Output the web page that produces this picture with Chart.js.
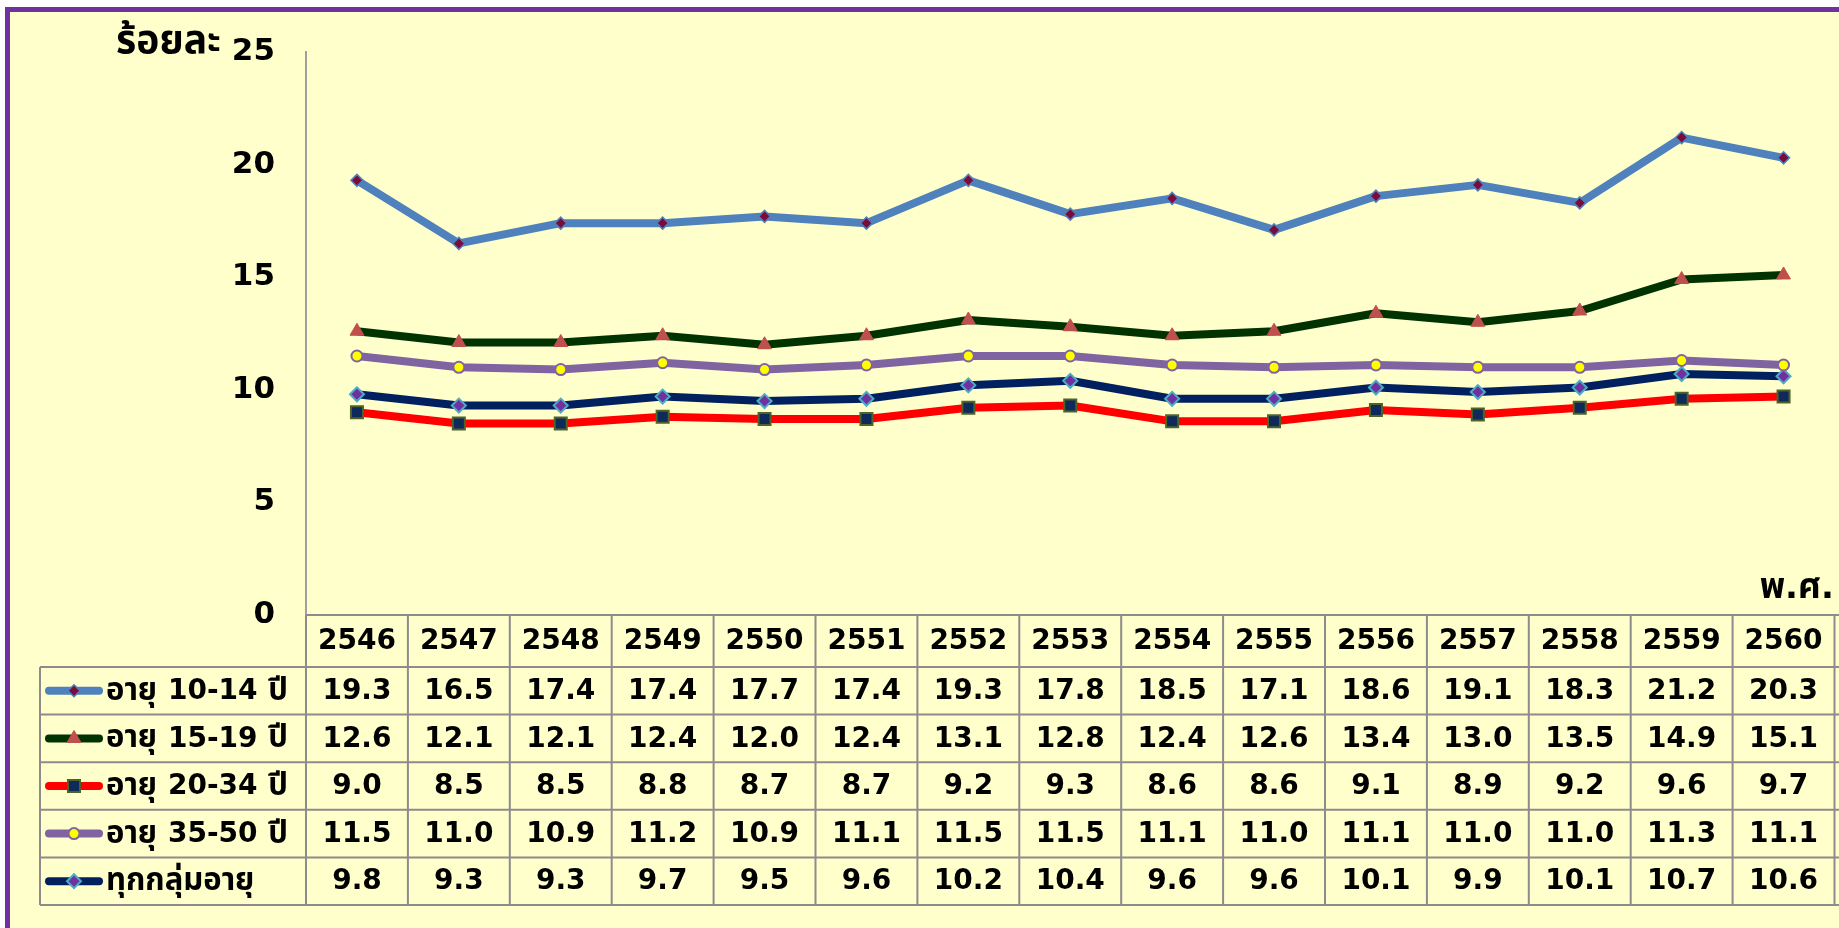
<!DOCTYPE html>
<html><head><meta charset="utf-8">
<script src="https://cdn.jsdelivr.net/npm/chart.js@4.4.1/dist/chart.umd.min.js"></script>
<style>
html,body{margin:0;padding:0;background:#fff;overflow:hidden;width:1839px;height:928px;}
#frame{position:absolute;left:5px;top:7px;width:2000px;height:1000px;background:#FFFFCC;border-left:5px solid #7030A0;border-top:5px solid #7030A0;}
#c{position:absolute;left:0;top:0;}
</style></head>
<body>
<div id="frame"></div>
<canvas id="c" width="1845" height="928"></canvas>
<script>
const years = ['2546','2547','2548','2549','2550','2551','2552','2553','2554','2555','2556','2557','2558','2559','2560'];
const seriesNames = ['อายุ 10-14 ปี','อายุ 15-19 ปี','อายุ 20-34 ปี','อายุ 35-50 ปี','ทุกกลุ่มอายุ'];
const age10_14 = [19.3,16.5,17.4,17.4,17.7,17.4,19.3,17.8,18.5,17.1,18.6,19.1,18.3,21.2,20.3];
const age15_19 = [12.6,12.1,12.1,12.4,12.0,12.4,13.1,12.8,12.4,12.6,13.4,13.0,13.5,14.9,15.1];
const age20_34 = [9.0,8.5,8.5,8.8,8.7,8.7,9.2,9.3,8.6,8.6,9.1,8.9,9.2,9.6,9.7];
const age35_50 = [11.5,11.0,10.9,11.2,10.9,11.1,11.5,11.5,11.1,11.0,11.1,11.0,11.0,11.3,11.1];
const allAges = [9.8,9.3,9.3,9.7,9.5,9.6,10.2,10.4,9.6,9.6,10.1,9.9,10.1,10.7,10.6];
const yTicks = [0,5,10,15,20,25];
const yTitle = 'ร้อยละ';
const xTitle = 'พ.ศ.';

const FONT = '"DejaVu Sans","Noto Sans","Noto Sans Thai",Tahoma,sans-serif';
const styles = [
  {line:'#4F81BD', w:8, pt:'rectRot', r:6, fill:'#7A0C3C', stroke:'#4F81BD', bw:1.5},
  {line:'#003300', w:8, pt:'triangle', r:8, fill:'#C0504D', stroke:'#C0504D', bw:1},
  {line:'#FF0000', w:8, pt:'rect', r:8.5, fill:'#0E2A5A', stroke:'#4F6228', bw:2},
  {line:'#8064A2', w:8, pt:'circle', r:5.5, fill:'#FFFF00', stroke:'#8064A2', bw:2},
  {line:'#002060', w:8, pt:'rectRot', r:7, fill:'#7030A0', stroke:'#4BACC6', bw:2}
];
const seriesData = [age10_14, age15_19, age20_34, age35_50, allAges];

function drawMarker(ctx, st, x, y){
  const r = st.r;
  ctx.save();
  ctx.fillStyle = st.fill; ctx.strokeStyle = st.stroke; ctx.lineWidth = st.bw;
  ctx.beginPath();
  if (st.pt === 'circle') { ctx.arc(x, y, r, 0, Math.PI*2); }
  else if (st.pt === 'rect') { const s = r*Math.SQRT1_2; ctx.rect(x-s, y-s, 2*s, 2*s); }
  else if (st.pt === 'rectRot') { const d = r; ctx.moveTo(x, y-d); ctx.lineTo(x+d, y); ctx.lineTo(x, y+d); ctx.lineTo(x-d, y); ctx.closePath(); }
  else if (st.pt === 'triangle') {
    let a = 0; ctx.moveTo(x + Math.sin(a)*r, y - Math.cos(a)*r);
    a += 2*Math.PI/3; ctx.lineTo(x + Math.sin(a)*r, y - Math.cos(a)*r);
    a += 2*Math.PI/3; ctx.lineTo(x + Math.sin(a)*r, y - Math.cos(a)*r); ctx.closePath();
  }
  ctx.fill(); ctx.stroke();
  ctx.restore();
}

// draws text where Thai runs get a larger size than digits/latin
function drawMixed(ctx, text, x, y, latinSize, thaiSize, align){
  const parts = text.split(/([0-9.\-]+)/).filter(p => p.length);
  const fonts = parts.map(p => /[\u0E00-\u0E7F]/.test(p) ? 'bold ' + thaiSize + 'px ' + FONT : 'bold ' + latinSize + 'px ' + FONT);
  let total = 0;
  const widths = parts.map((p,i) => { ctx.font = fonts[i]; const w = ctx.measureText(p).width; total += w; return w; });
  let cx = align === 'right' ? x - total : x;
  ctx.textAlign = 'left';
  parts.forEach((p,i) => { ctx.font = fonts[i]; ctx.fillText(p, cx, y); cx += widths[i]; });
}

const tablePlugin = {
  id: 'dataTable',
  afterDraw(chart){
    const ctx = chart.ctx;
    const xs = chart.scales.x;
    const ca = chart.chartArea;
    const colW = xs.getPixelForValue(1) - xs.getPixelForValue(0);
    const headTop = ca.bottom, headBot = 667, rowH = 47.6, nRows = seriesNames.length;
    const tableBot = headBot + rowH*nRows;
    const legendLeft = 40;
    ctx.save();
    ctx.strokeStyle = '#8C8C8C'; ctx.lineWidth = 2;
    ctx.beginPath();
    ctx.moveTo(ca.left, headTop); ctx.lineTo(ca.right+5, headTop);
    for (let i=0;i<=nRows;i++){ const y = headBot + rowH*i; ctx.moveTo(legendLeft, y); ctx.lineTo(ca.right+5, y); }
    ctx.moveTo(legendLeft, headBot); ctx.lineTo(legendLeft, tableBot);
    for (let i=0;i<=years.length;i++){ const x = ca.left + colW*i; ctx.moveTo(x, headTop); ctx.lineTo(x, tableBot); }
    ctx.stroke();

    ctx.fillStyle = '#000';
    ctx.font = 'bold 28px ' + FONT;
    ctx.textAlign = 'center'; ctx.textBaseline = 'middle';
    years.forEach((yr,i)=>{ ctx.fillText(yr, xs.getPixelForValue(i), (headTop+headBot)/2 + 1); });
    seriesData.forEach((arr, r)=>{
      const cy = headBot + rowH*r + rowH/2 + 1;
      arr.forEach((v,i)=>{ ctx.fillText(v.toFixed(1), xs.getPixelForValue(i), cy); });
    });
    // legend keys
    seriesNames.forEach((nm, r)=>{
      const cy = headBot + rowH*r + rowH/2;
      const st = styles[r];
      ctx.save();
      ctx.strokeStyle = st.line; ctx.lineWidth = st.w; ctx.lineCap = 'round';
      ctx.beginPath(); ctx.moveTo(49, cy); ctx.lineTo(99, cy); ctx.stroke();
      ctx.restore();
      drawMarker(ctx, st, 74, cy);
      ctx.fillStyle = '#000'; ctx.textBaseline = 'middle';
      drawMixed(ctx, nm, 106, cy + 1, 28, 31, 'left');
    });
    // axis titles
    ctx.textBaseline = 'alphabetic';
    drawMixed(ctx, yTitle, 221, 53, 30, 39, 'right');
    drawMixed(ctx, xTitle, 1834, 598, 34, 35, 'right');
    ctx.restore();
  }
};

new Chart(document.getElementById('c'), {
  type: 'line',
  data: {
    labels: years,
    datasets: seriesNames.map((nm, i)=>({
      label: nm,
      data: seriesData[i],
      borderColor: styles[i].line,
      borderWidth: styles[i].w,
      borderJoinStyle: 'round',
      tension: 0,
      pointStyle: styles[i].pt,
      pointRadius: styles[i].r,
      pointBackgroundColor: styles[i].fill,
      pointBorderColor: styles[i].stroke,
      pointBorderWidth: styles[i].bw,
      fill: false,
      clip: false
    }))
  },
  options: {
    responsive: false,
    animation: false,
    devicePixelRatio: 1,
    layout: { padding: { top: 52, bottom: 313, left: 0, right: 1 } },
    plugins: { legend: { display: false }, tooltip: { enabled: false } },
    scales: {
      x: { display: false, offset: true },
      y: {
        min: 0, max: 25,
        afterBuildTicks: s => { s.ticks = yTicks.map(v => ({ value: v })); },
        afterFit: s => { s.width = 306; },
        grid: { display: false, drawTicks: false },
        border: { display: true, color: '#A0A0A0', width: 2 },
        ticks: { padding: 31, color: '#000', font: { family: FONT, size: 31, weight: 'bold' } }
      }
    }
  },
  plugins: [tablePlugin]
});
</script>
</body></html>
